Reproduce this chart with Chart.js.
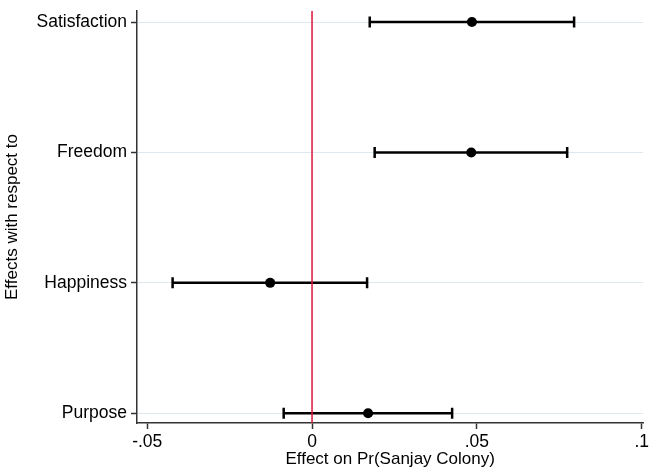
<!DOCTYPE html>
<html>
<head>
<meta charset="utf-8">
<script src="https://cdn.jsdelivr.net/npm/chart.js@4"></script>
<style>
  body { margin: 0; background: #fff; }
  #wrap { width: 652px; height: 470px; }
</style>
</head>
<body>
<div id="wrap"><canvas id="effectsChart" width="652" height="470"></canvas></div>
<script>
// categories from top to bottom
const categories = ['Satisfaction', 'Freedom', 'Happiness', 'Purpose'];
const estimates = [0.0485, 0.0483, -0.0127, 0.0170];
const lowerCI = [0.0175, 0.0190, -0.0423, -0.0086];
const upperCI = [0.0795, 0.0774, 0.0167, 0.0425];
const xTicks = [-0.05, 0, 0.05, 0.1];

const FONT = "'Liberation Sans', Arial, Helvetica, sans-serif";
const AXIS_COLOR = '#333';

// y position of each category (top row gets the highest value)
const yPos = categories.map((c, i) => categories.length - i);

const datasets = [];

// confidence intervals, with caps drawn as vertical line points
categories.forEach((cat, i) => {
    datasets.push({
        type: 'line',
        label: cat + ' CI',
        data: [{ x: lowerCI[i], y: yPos[i] }, { x: upperCI[i], y: yPos[i] }],
        borderColor: '#000',
        borderWidth: 2.5,
        pointStyle: 'line',
        rotation: 90,
        pointRadius: 5.5,
        pointBorderWidth: 2.5,
        pointBorderColor: '#000',
        fill: false,
        showLine: true
    });
});

// point estimates
datasets.push({
    type: 'scatter',
    label: 'Estimate',
    data: categories.map((c, i) => ({ x: estimates[i], y: yPos[i] })),
    backgroundColor: '#000',
    borderColor: '#000',
    pointRadius: 5,
    pointBorderWidth: 0
});

// red reference line at zero
const zeroLine = {
    id: 'zeroLine',
    afterDatasetsDraw(chart) {
        const ctx = chart.ctx;
        const x = chart.scales.x.getPixelForValue(0);
        const area = chart.chartArea;
        ctx.save();
        ctx.strokeStyle = '#d9143c';
        ctx.lineWidth = 1.5;
        ctx.beginPath();
        ctx.moveTo(x, area.top);
        ctx.lineTo(x, area.bottom);
        ctx.stroke();
        ctx.restore();
    }
};

const config = {
    type: 'scatter',
    data: { datasets: datasets },
    options: {
        responsive: false,
        animation: false,
        layout: { padding: { top: 11, right: 2, left: 0, bottom: 0 } },
        plugins: {
            legend: { display: false },
            tooltip: { enabled: false }
        },
        scales: {
            x: {
                type: 'linear',
                min: -0.0531,
                max: 0.1005,
                afterBuildTicks: scale => { scale.ticks = xTicks.map(v => ({ value: v })); },
                afterFit: scale => { scale.height = 47; },
                ticks: {
                    color: '#000',
                    font: { family: FONT, size: 17.5 },
                    padding: 3,
                    maxRotation: 0,
                    callback: v => v === 0 ? '0' : String(v).replace(/^(-?)0\./, '$1.')
                },
                grid: { drawOnChartArea: false, drawTicks: true, tickLength: 6, tickColor: AXIS_COLOR, tickWidth: 1.5 },
                border: { display: true, color: AXIS_COLOR, width: 1.5 },
                title: {
                    display: true,
                    text: 'Effect on Pr(Sanjay Colony)',
                    color: '#000',
                    font: { family: FONT, size: 17 },
                    padding: { top: 0, bottom: 0 }
                }
            },
            y: {
                type: 'linear',
                min: 0.925,
                max: 4.085,
                afterBuildTicks: scale => { scale.ticks = yPos.map(v => ({ value: v })); },
                afterFit: scale => {
                    scale.width = 137;
                    scale.paddingTop = 0;
                    scale.paddingBottom = 0;
                },
                ticks: {
                    color: '#000',
                    font: { family: FONT, size: 17.5 },
                    padding: 4,
                    callback: v => categories[categories.length - v]
                },
                grid: { color: '#dde9ee', lineWidth: 1, drawTicks: true, tickLength: 6, tickColor: AXIS_COLOR, tickWidth: 1.5 },
                border: { display: true, color: AXIS_COLOR, width: 1.5 },
                title: {
                    display: true,
                    text: 'Effects with respect to',
                    color: '#000',
                    font: { family: FONT, size: 17 },
                    padding: { top: 2, bottom: 0 }
                }
            }
        }
    },
    plugins: [zeroLine]
};

const ctx = document.getElementById('effectsChart').getContext('2d');
new Chart(ctx, config);
</script>
</body>
</html>
